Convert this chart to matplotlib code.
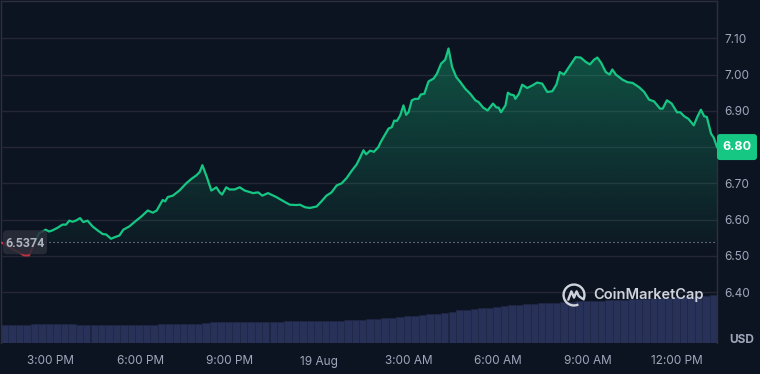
"""
24h price chart in the CoinMarketCap dark style: baseline line chart
(green above the open price, red below) with volume bars underneath.
"""

import numpy as np
import matplotlib
matplotlib.use("Agg")
import matplotlib.pyplot as plt
from matplotlib.patches import Polygon, FancyBboxPatch, Arc
from matplotlib.transforms import IdentityTransform
from matplotlib.colors import to_rgb

BG = "#0d1421"
GREEN = "#16c784"
RED = "#ea3943"
GRID = "#242835"
SPINE = "#2c303c"
TEXT = "#a1a7bb"
VOL = "#283157"

# hours since 13:20 on 18 Aug
hours = [0.00, 0.77, 0.94, 1.28, 1.39, 1.50, 1.61, 1.72, 1.89, 2.06, 2.18, 2.29, 2.40, 2.51,
         2.65, 2.76, 2.90, 3.07, 3.24, 3.41, 3.52, 3.69, 3.80, 3.97, 4.10, 4.30, 4.53, 4.70,
         4.92, 5.09, 5.22, 5.42, 5.50, 5.59, 5.76, 5.98, 6.21, 6.38, 6.55, 6.66, 6.75, 6.90,
         7.05, 7.22, 7.33, 7.41, 7.55, 7.66, 7.83, 8.00, 8.17, 8.45, 8.62, 8.76, 8.95, 9.23,
         9.46, 9.68, 9.91, 10.02, 10.19, 10.35, 10.58, 10.75, 10.91, 11.08, 11.25, 11.42,
         11.59, 11.76, 11.92, 12.03, 12.15, 12.24, 12.37, 12.50, 12.65, 12.71, 12.82, 12.99,
         13.10, 13.18, 13.27, 13.38, 13.49, 13.58, 13.66, 13.77, 13.88, 13.99, 14.07, 14.19,
         14.33, 14.50, 14.61, 14.75, 14.89, 15.00, 15.12, 15.26, 15.40, 15.56, 15.73, 15.90,
         16.01, 16.16, 16.31, 16.49, 16.61, 16.68, 16.76, 16.91, 16.99, 17.08, 17.19, 17.24,
         17.36, 17.47, 17.64, 17.81, 17.97, 18.14, 18.31, 18.48, 18.62, 18.73, 18.87, 19.04,
         19.26, 19.43, 19.60, 19.74, 19.88, 19.99, 20.12, 20.27, 20.40, 20.49, 20.61, 20.83,
         21.00, 21.17, 21.39, 21.56, 21.72, 21.89, 22.09, 22.18, 22.32, 22.48, 22.66, 22.77,
         22.90, 23.04, 23.22, 23.35, 23.46, 23.57, 23.66, 23.80, 23.89, 24.00]

price = [6.537, 6.501, 6.501, 6.563, 6.567, 6.572, 6.567, 6.570, 6.577, 6.586, 6.586, 6.597,
         6.594, 6.597, 6.604, 6.593, 6.597, 6.581, 6.570, 6.560, 6.559, 6.547, 6.551, 6.556,
         6.572, 6.581, 6.597, 6.608, 6.625, 6.619, 6.625, 6.654, 6.650, 6.662, 6.666, 6.680,
         6.700, 6.712, 6.722, 6.731, 6.750, 6.717, 6.680, 6.689, 6.675, 6.669, 6.689, 6.683,
         6.683, 6.689, 6.680, 6.673, 6.675, 6.666, 6.673, 6.662, 6.651, 6.641, 6.640, 6.641,
         6.634, 6.632, 6.636, 6.651, 6.666, 6.675, 6.694, 6.700, 6.715, 6.735, 6.752, 6.770,
         6.791, 6.780, 6.790, 6.787, 6.800, 6.811, 6.827, 6.851, 6.855, 6.873, 6.872, 6.887,
         6.915, 6.889, 6.896, 6.929, 6.933, 6.933, 6.945, 6.947, 6.981, 6.989, 7.002, 7.030,
         7.041, 7.072, 7.021, 6.993, 6.979, 6.961, 6.947, 6.929, 6.924, 6.909, 6.901, 6.920,
         6.909, 6.909, 6.896, 6.915, 6.950, 6.945, 6.943, 6.933, 6.947, 6.972, 6.963, 6.970,
         6.978, 6.975, 6.952, 6.954, 6.973, 7.007, 7.000, 7.021, 7.048, 7.047, 7.035, 7.028,
         7.041, 7.047, 7.032, 7.007, 7.000, 7.014, 7.000, 6.986, 6.979, 6.977, 6.965, 6.952,
         6.931, 6.926, 6.906, 6.906, 6.929, 6.920, 6.896, 6.896, 6.885, 6.878, 6.860, 6.885,
         6.903, 6.885, 6.883, 6.837, 6.826, 6.800]

base_price = 6.5374
last_label = "6.80"

# one bar per 15 minutes
volume = [18, 18, 18, 18, 19, 19, 19, 19, 19, 19, 18, 18, 18, 18, 18, 18, 18, 18, 18, 18,
          18, 19, 19, 19, 19, 19, 19, 20, 21, 21, 21, 21, 21, 21, 21, 21, 21, 21, 22, 22,
          22, 22, 22, 22, 22, 22, 23, 23, 23, 24, 24, 25, 25.5, 26, 27, 27, 28, 29, 29.5, 30,
          31, 33, 33, 34, 35, 35.5, 36, 37, 38, 38, 39, 39, 40, 40, 40.5, 41, 41.5, 42, 42, 42,
          42.5, 43, 43, 43.5, 44, 44, 44.5, 45, 45, 45.5, 46, 46, 46.5, 47, 47.5, 48]

tick_hours = [1.667, 4.667, 7.667, 10.667, 13.667, 16.667, 19.667, 22.667]
tick_labels = ["3:00 PM", "6:00 PM", "9:00 PM", "19 Aug", "3:00 AM", "6:00 AM", "9:00 AM", "12:00 PM"]
price_ticks = [6.40, 6.50, 6.60, 6.70, 6.80, 6.90, 7.00, 7.10]

plt.rcParams["font.family"] = ["Inter", "DejaVu Sans"]


def split_at_base(x, y, base):
    # insert the points where the line crosses the baseline
    xs, ys = [x[0]], [y[0]]
    for i in range(1, len(x)):
        y0, y1 = y[i - 1], y[i]
        if (y0 - base) * (y1 - base) < 0:
            t = (base - y0) / (y1 - y0)
            xs.append(x[i - 1] + t * (x[i] - x[i - 1]))
            ys.append(base)
        xs.append(x[i])
        ys.append(y[i])
    return np.array(xs), np.array(ys)


def gradient_fill(ax, xs, ys, base, color, lo, hi, a_lo, a_hi):
    verts = np.column_stack([np.r_[xs[0], xs, xs[-1]], np.r_[base, ys, base]])
    poly = Polygon(verts, closed=True, fc="none", ec="none")
    ax.add_patch(poly)
    grad = np.zeros((256, 1, 4))
    grad[..., :3] = to_rgb(color)
    grad[:, 0, 3] = np.linspace(a_lo, a_hi, 256)
    im = ax.imshow(grad, extent=[xs[0], xs[-1], lo, hi], origin="lower",
                   aspect="auto", zorder=1, interpolation="bilinear")
    im.set_clip_path(poly)


def main():
    fig = plt.figure(figsize=(7.6, 3.74), dpi=100, facecolor=BG)
    rect = [1 / 760, 31 / 374, 716 / 760, 342 / 374]

    # volume underneath
    vax = fig.add_axes(rect, facecolor=BG)
    bar_x = np.arange(len(volume)) * 0.25
    vax.bar(bar_x, volume, width=0.25, align="edge", color=VOL,
            edgecolor="#1f2747", linewidth=0.5)
    vax.set_xlim(0, 24)
    vax.set_ylim(0, 342)
    vax.axis("off")

    ax = fig.add_axes(rect, facecolor="none")
    xs, ys = split_at_base(np.array(hours), np.array(price), base_price)

    gradient_fill(ax, xs, np.maximum(ys, base_price), base_price, GREEN,
                  base_price, ys.max(), 0.04, 0.35)
    gradient_fill(ax, xs, np.minimum(ys, base_price), base_price, RED,
                  ys.min(), base_price, 0.25, 0.05)

    up = np.ma.masked_where(ys < base_price - 1e-9, ys)
    down = np.ma.masked_where(ys > base_price + 1e-9, ys)
    ax.plot(xs, up, color=GREEN, lw=1.6, zorder=3, solid_joinstyle="round")
    ax.plot(xs, down, color=RED, lw=1.4, zorder=3, solid_joinstyle="round", alpha=0.8)

    ax.axhline(base_price, color="#9ca2b2", lw=0.8, ls=(0, (1, 2.6)), zorder=2)

    ax.set_xlim(0, 24)
    ax.set_ylim(6.2594, 7.203)
    ax.set_yticks(price_ticks)
    # the 6.80 slot is covered by the last price tag
    ax.set_yticklabels(["" if f"{p:.2f}" == last_label else f"{p:.2f}" for p in price_ticks])
    ax.yaxis.tick_right()
    ax.set_xticks(tick_hours)
    ax.set_xticklabels(tick_labels)
    ax.tick_params(axis="both", length=0, labelcolor=TEXT, labelsize=8.5)
    ax.tick_params(axis="x", pad=9)
    ax.tick_params(axis="y", pad=5)
    ax.grid(axis="y", color=GRID, lw=1)
    ax.set_axisbelow(True)
    for side in ("top", "left", "right"):
        ax.spines[side].set_color(SPINE)
        ax.spines[side].set_linewidth(1)
    ax.spines["bottom"].set_visible(False)

    ident = IdentityTransform()

    # open price label
    y_base = ax.transData.transform((0, base_price))[1]
    fig.add_artist(FancyBboxPatch((3, y_base - 12), 44, 24,
                                  boxstyle="round,pad=0,rounding_size=4",
                                  transform=ident, fc="#2a2e3a", ec="none", alpha=0.85))
    fig.text(25, y_base - 1, f"{base_price:.4f}", transform=ident, ha="center", va="center",
             color="#aeb3c0", fontsize=9, fontweight="bold", family=["Roboto", "DejaVu Sans"])

    # last price label
    y_last = ax.transData.transform((0, price[-1]))[1]
    fig.add_artist(FancyBboxPatch((717, y_last - 13), 40, 26,
                                  boxstyle="round,pad=0,rounding_size=3",
                                  transform=ident, fc=GREEN, ec="none"))
    fig.text(737, y_last, last_label, transform=ident, ha="center", va="center",
             color="white", fontsize=9, fontweight="bold")

    fig.text(742 / 760, 1 - 340 / 374, "USD", ha="center", va="center",
             color=TEXT, fontsize=8.5, fontweight="bold")

    # watermark
    lax = fig.add_axes([562 / 760, 67 / 374, 24 / 760, 24 / 374])
    lax.set_xlim(-1.15, 1.15)
    lax.set_ylim(-1.15, 1.15)
    lax.axis("off")
    lax.add_patch(Arc((0, 0), 2, 2, theta1=-30, theta2=295, color="#cfd3dc", lw=1.7))
    lax.plot([-0.55, -0.25, 0.0, 0.25, 0.45, 0.8], [-0.45, 0.35, -0.25, 0.35, -0.1, -0.35],
             color="#cfd3dc", lw=1.7, solid_joinstyle="round", solid_capstyle="round")
    fig.text(593 / 760, 1 - 295 / 374, "CoinMarketCap", ha="left", va="center",
             color="#cfd3dc", fontsize=10.5, fontweight="semibold")

    fig.savefig("out.png", dpi=100, facecolor=BG)


if __name__ == "__main__":
    assert len(hours) == len(price)
    main()
